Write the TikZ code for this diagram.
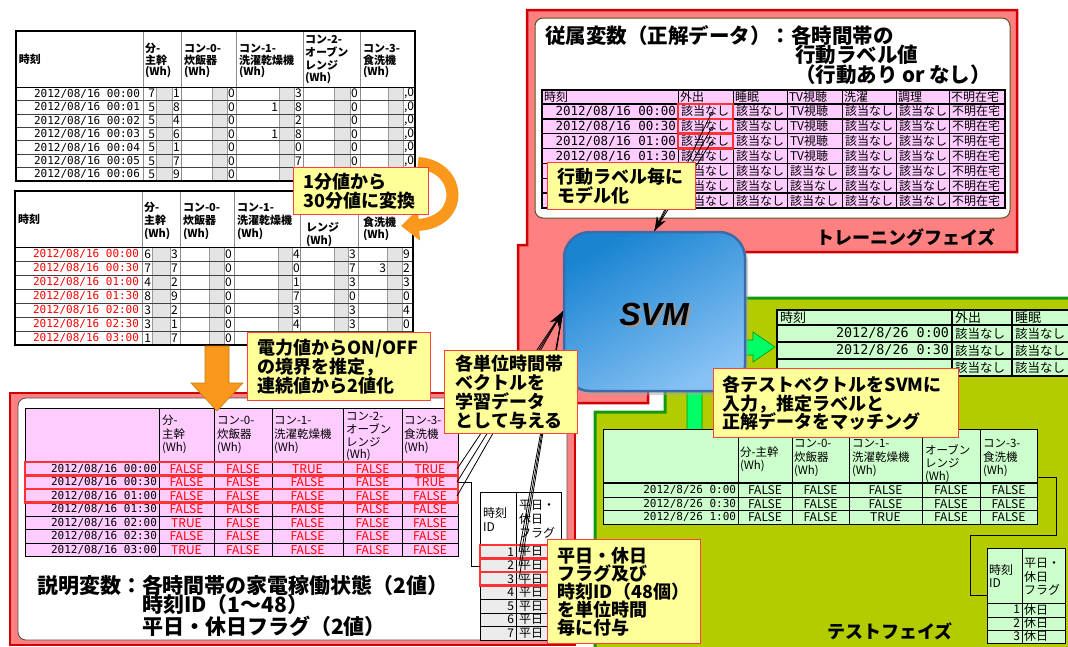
\documentclass[tikz,border=0pt]{standalone}
\usepackage{fontspec}
\setmainfont{Noto Sans CJK JP}
\newfontfamily\monof{DejaVu Sans Mono}
\newfontfamily\svmf{Liberation Sans}
\usetikzlibrary{arrows.meta,shadows}
\newcommand\jfs[1]{\fontsize{#1}{#1}\selectfont}
\newcommand\mkhdr[5]{\foreach \s [count=\k from 0] in {#5} {\node[txt,anchor=west] (#1\k) at (#2,{#3+#4*\k}) {\s};}}
\definecolor{pinkbg}{HTML}{FF8080}
\definecolor{redline}{HTML}{D00000}
\definecolor{cellpink}{HTML}{FFCCFF}
\definecolor{cellgreen}{HTML}{CCFFCC}
\definecolor{testbg}{HTML}{B2CC00}
\definecolor{testline}{HTML}{119911}
\definecolor{callbg}{HTML}{FFFF99}
\definecolor{callline}{HTML}{FF4040}
\definecolor{hilite}{HTML}{FF3333}
\definecolor{orng}{HTML}{FA981C}
\definecolor{svmtop}{HTML}{1A84D2}
\definecolor{svmbot}{HTML}{88C2F4}
\definecolor{svmedge}{HTML}{3C6CA8}
\definecolor{graycol}{HTML}{E4E4E4}
\definecolor{rowgray}{HTML}{ECECEC}
\definecolor{arrgreen}{HTML}{00FF66}
\definecolor{olivec}{HTML}{555522}
\definecolor{redtxt}{HTML}{FF0000}
\tikzset{
  txt/.style={inner sep=0pt,outer sep=0pt},
  callout/.style={draw=callline,fill=callbg,line width=1.3pt,inner xsep=10pt,inner ysep=0pt,
    align=left,font=\bfseries\fontsize{18}{18.8}\selectfont,anchor=north west},
  hilitebox/.style={draw=hilite,line width=2.5pt},
  conn/.style={draw=black,line width=0.8pt},
  svmbox/.style={rounded corners=26pt,minimum width=181pt,minimum height=159pt,draw=svmedge,
    line width=2.5pt,top color=svmtop,bottom color=svmbot,shading angle=30,
    drop shadow={shadow xshift=3pt,shadow yshift=-4pt,fill=black!35}},
}
\begin{document}
\begin{tikzpicture}[x=1pt,y=-1pt]
\useasboundingbox (0,0) rectangle (1068,646);
\fill[white] (0,0) rectangle (1068,646);

% ================= Table 1 =================
\fill[white] (16,31) rectangle (415,181);
\foreach \a/\b in {156/172,212/227,279/294,334/350,388/403}
  \filldraw[fill=graycol,draw=black!40,line width=0.6pt] (\a,87) rectangle (\b,181);
\foreach \x in {143,181,236,303,360} \draw[black!45,line width=0.6pt] (\x,31) -- (\x,181);
\foreach \k in {1,...,6} \draw[black!75,line width=0.6pt] (16,{87+13.43*\k}) -- (415,{87+13.43*\k});
\draw[black,line width=0.8pt] (16,87) -- (415,87);
\draw[black,line width=1.2pt] (16,31) rectangle (415,181);
\begin{scope}[every node/.append style={font=\bfseries\jfs{11}}]
\node[txt,anchor=west] (t1h) at (19,59) {時刻};
\mkhdr{t1ha}{145}{48}{12}{分-,主幹,(Wh)}
\mkhdr{t1hb}{184}{48}{12}{コン-0-,炊飯器,(Wh)}
\mkhdr{t1hc}{239}{48}{12}{コン-1-,洗濯乾燥機,(Wh)}
\mkhdr{t1hd}{305}{39}{13}{コン-2-,オーブン,レンジ,(Wh)}
\mkhdr{t1he}{363}{48}{12}{コン-3-,食洗機,(Wh)}
\end{scope}
\begin{scope}[every node/.append style={font=\jfs{12}}]
\foreach \t/\la/\ra/\rb/\lc/\rc/\rd [count=\i from 0] in
 {00:00/7/1/0/{}/3/0,00:01/5/8/0/1/8/0,00:02/5/4/0/{}/2/0,00:03/5/6/0/1/8/0,00:04/5/1/0/{}/0/0,00:05/5/7/0/{}/7/0}{
  \node[txt,anchor=east,font=\monof\jfs{11}] (t1t\i) at (140,{87+13.43*(\i+0.5)}) {2012/08/16 \t};
  \node[txt,anchor=east] (t1a\i) at (155,{87+13.43*(\i+0.5)}) {\la};
  \node[txt,anchor=west] (t1b\i) at (173,{87+13.43*(\i+0.5)}) {\ra};
  \node[txt,anchor=west] (t1c\i) at (228,{87+13.43*(\i+0.5)}) {\rb};
  \node[txt,anchor=east] (t1d\i) at (278,{87+13.43*(\i+0.5)}) {\lc};
  \node[txt,anchor=west] (t1e\i) at (295,{87+13.43*(\i+0.5)}) {\rc};
  \node[txt,anchor=west] (t1f\i) at (351,{87+13.43*(\i+0.5)}) {\rd};
  \node[txt,anchor=west] (t1g\i) at (404,{87+13.43*(\i+0.5)}) {,0};
}
\node[txt,anchor=east,font=\monof\jfs{11}] (t1t6) at (140,{87+13.43*6.5}) {2012/08/16 00:06};
\node[txt,anchor=east] (t1a6) at (155,{87+13.43*6.5}) {5};
\node[txt,anchor=west] (t1b6) at (173,{87+13.43*6.5}) {9};
\node[txt,anchor=west] (t1c6) at (228,{87+13.43*6.5}) {0};
\end{scope}

% ================= Table 2 =================
\fill[white] (15,191) rectangle (413,345);
\foreach \a/\b in {152/170,209/224,278/292,334/348,387/402}
  \filldraw[fill=graycol,draw=black!40,line width=0.6pt] (\a,247) rectangle (\b,345);
\foreach \x in {142,180,234,300,358} \draw[black!45,line width=0.6pt] (\x,191) -- (\x,345);
\foreach \k in {1,...,6} \draw[black!75,line width=0.6pt] (15,{247+14*\k}) -- (413,{247+14*\k});
\draw[black,line width=0.8pt] (15,247) -- (413,247);
\draw[black,line width=1.2pt] (15,191) rectangle (413,345);
\begin{scope}[every node/.append style={font=\bfseries\jfs{11}}]
\node[txt,anchor=west] (t2h) at (18,219) {時刻};
\mkhdr{t2ha}{144}{207}{13.5}{分-,主幹,(Wh)}
\mkhdr{t2hb}{183}{207}{13.5}{コン-0-,炊飯器,(Wh)}
\mkhdr{t2hc}{237}{207}{13.5}{コン-1-,洗濯乾燥機,(Wh)}
\mkhdr{t2hd}{306}{227}{13.5}{レンジ,(Wh)}
\mkhdr{t2he}{363}{222}{13}{食洗機,(Wh)}
\end{scope}
\begin{scope}[every node/.append style={font=\jfs{12}}]
\foreach \t/\la/\ra/\rb/\rc/\rd/\le/\re [count=\i from 0] in
 {00:00/6/3/0/4/3/{}/9,00:30/7/7/0/0/7/3/2,01:00/4/2/0/1/3/{}/3,01:30/8/9/0/7/0/{}/0,02:00/3/2/0/3/3/{}/4,02:30/3/1/0/4/3/{}/0}{
  \node[txt,anchor=east,font=\monof\jfs{11},text=redtxt] (t2t\i) at (139,{247+14*(\i+0.5)}) {2012/08/16 \t};
  \node[txt,anchor=east] (t2a\i) at (151,{247+14*(\i+0.5)}) {\la};
  \node[txt,anchor=west] (t2b\i) at (171,{247+14*(\i+0.5)}) {\ra};
  \node[txt,anchor=west] (t2c\i) at (225,{247+14*(\i+0.5)}) {\rb};
  \node[txt,anchor=west] (t2d\i) at (293,{247+14*(\i+0.5)}) {\rc};
  \node[txt,anchor=west] (t2e\i) at (349,{247+14*(\i+0.5)}) {\rd};
  \node[txt,anchor=east] (t2f\i) at (386,{247+14*(\i+0.5)}) {\le};
  \node[txt,anchor=west] (t2g\i) at (403,{247+14*(\i+0.5)}) {\re};
}
\node[txt,anchor=east,font=\monof\jfs{11},text=redtxt] (t2t6) at (139,{247+14*6.5}) {2012/08/16 03:00};
\node[txt,anchor=east] (t2a6) at (151,{247+14*6.5}) {1};
\node[txt,anchor=west] (t2b6) at (171,{247+14*6.5}) {7};
\node[txt,anchor=west] (t2c6) at (225,{247+14*6.5}) {0};
\end{scope}

% curved orange arrow
\draw[orng,line width=12pt,-{Triangle[length=18pt,width=30pt]}] (418,163) .. controls (462,166) and (466,222) .. (401,226);
\node[callout,minimum width=135pt,minimum height=47pt,text width=115pt] (c1) at (293,167) {1分値から\\30分値に変換};

% ================= Training panel =================
\filldraw[fill=pinkbg,draw=redline,line width=2.5pt] (527,10) -- (1017,10) -- (1017,252) -- (700,252) -- (648,300) -- (648,403) -- (518,403) -- (518,245) -- (527,245) -- cycle;
\filldraw[fill=white,draw=olivec,line width=1pt,rounded corners=8pt] (535,18) rectangle (1010,218);
\begin{scope}[every node/.append style={font=\bfseries\jfs{20.5}}]
\node[txt,anchor=west] (ttl1) at (545,35.5) {従属変数（正解データ）：各時間帯の};
\node[txt,anchor=west] (ttl2) at (795,55) {行動ラベル値};
\node[txt,anchor=west] (ttl3) at (795,74.5) {（行動あり or なし）};
\end{scope}
\fill[cellpink] (542,90) rectangle (1005,208);
\foreach \x in {678,733,787,842,896,949} \draw[black,line width=1pt] (\x,90) -- (\x,208);
\foreach \k in {0,...,6} \draw[black,line width=1.3pt] (542,{104+14.857*\k}) -- (1005,{104+14.857*\k});
\draw[black,line width=1.5pt] (542,90) rectangle (1005,208);
\begin{scope}[every node/.append style={font=\jfs{12}}]
\foreach \x/\s [count=\k] in {544/時刻,680/外出,735/睡眠,789/TV視聴,844/洗濯,898/調理,951/不明在宅}
  \node[txt,anchor=west] (trh\k) at (\x,97) {\s};
\foreach \t [count=\i from 0] in {00:00,00:30,01:00,01:30}
  \node[txt,anchor=east,font=\monof\jfs{12.5}] (trt\i) at (676,{104+14.857*(\i+0.5)}) {2012/08/16 \t};
\foreach \i in {0,...,6}{
  \node[txt,anchor=west] (tra\i) at (681,{104+14.857*(\i+0.5)}) {該当なし};
  \node[txt,anchor=west] (trb\i) at (736,{104+14.857*(\i+0.5)}) {該当なし};
  \node[txt,anchor=west] (trd\i) at (845,{104+14.857*(\i+0.5)}) {該当なし};
  \node[txt,anchor=west] (tre\i) at (899,{104+14.857*(\i+0.5)}) {該当なし};
  \node[txt,anchor=west] (trf\i) at (952,{104+14.857*(\i+0.5)}) {不明在宅};
}
\foreach \i in {0,...,3} \node[txt,anchor=west] (trc\i) at (790,{104+14.857*(\i+0.5)}) {TV視聴};
\foreach \i in {4,...,6} \node[txt,anchor=west] (trc\i) at (790,{104+14.857*(\i+0.5)}) {該当なし};
\end{scope}
\draw[hilitebox] (678,104) rectangle (733,118.9);
\draw[hilitebox] (678,118.9) rectangle (733,133.7);
\draw[hilitebox] (678,133.7) rectangle (733,148.6);
\node[txt,font=\bfseries\jfs{18}] (trlab) at (906,237) {トレーニングフェイズ};

% ================= Bottom-left panel =================
\filldraw[fill=pinkbg,draw=redline,line width=2.5pt] (10,393) rectangle (575,645);
\filldraw[fill=white,draw=black!70,line width=0.8pt,rounded corners=8pt] (18,398) rectangle (567,640);
\fill[cellpink] (25,408) rectangle (458,556.5);
\foreach \x in {159,214,272,343,402} \draw[black,line width=0.8pt] (\x,408) -- (\x,556.5);
\draw[black,line width=1pt] (25,461.5) -- (458,461.5);
\foreach \k in {1,...,6} \draw[black,line width=0.8pt] (25,{462+13.5*\k}) -- (458,{462+13.5*\k});
\draw[black,line width=1pt] (25,408) rectangle (458,556.5);
\begin{scope}[every node/.append style={font=\jfs{11.5}}]
\mkhdr{t3ha}{162}{420}{14}{分-,主幹,(Wh)}
\mkhdr{t3hb}{217}{420}{14}{コン-0-,炊飯器,(Wh)}
\mkhdr{t3hc}{274}{420}{14}{コン-1-,洗濯乾燥機,(Wh)}
\mkhdr{t3hd}{346}{416}{13}{コン-2-,オーブン,レンジ,(Wh)}
\mkhdr{t3he}{404}{420}{14}{コン-3-,食洗機,(Wh)}
\end{scope}
\begin{scope}[every node/.append style={font=\jfs{12}}]
\foreach \t/\a/\b/\c/\d/\e [count=\i from 0] in
 {00:00/FALSE/FALSE/TRUE/FALSE/TRUE,00:30/FALSE/FALSE/FALSE/FALSE/TRUE,01:00/FALSE/FALSE/FALSE/FALSE/FALSE,01:30/FALSE/FALSE/FALSE/FALSE/FALSE,02:00/TRUE/FALSE/FALSE/FALSE/FALSE,02:30/FALSE/FALSE/FALSE/FALSE/FALSE,03:00/TRUE/FALSE/FALSE/FALSE/FALSE}{
  \node[txt,anchor=east,font=\monof\jfs{11}] (t3t\i) at (157,{462+13.5*(\i+0.5)}) {2012/08/16 \t};
  \node[txt,text=redtxt] (t3a\i) at (186.5,{462+13.5*(\i+0.5)}) {\a};
  \node[txt,text=redtxt] (t3b\i) at (243,{462+13.5*(\i+0.5)}) {\b};
  \node[txt,text=redtxt] (t3c\i) at (307.5,{462+13.5*(\i+0.5)}) {\c};
  \node[txt,text=redtxt] (t3d\i) at (372.5,{462+13.5*(\i+0.5)}) {\d};
  \node[txt,text=redtxt] (t3e\i) at (430,{462+13.5*(\i+0.5)}) {\e};
}
\end{scope}
\draw[hilitebox] (25,462) rectangle (458,475.5);
\draw[hilitebox] (25,475.5) rectangle (458,489);
\draw[hilitebox] (25,489) rectangle (458,502.5);
\begin{scope}[every node/.append style={font=\bfseries\jfs{21}}]
\node[txt,anchor=west] (ex1) at (37,585) {説明変数：各時間帯の家電稼働状態（2値）};
\node[txt,anchor=west] (ex2) at (142,605) {時刻ID（1～48）};
\node[txt,anchor=west] (ex3) at (142,626) {平日・休日フラグ（2値）};
\end{scope}
% small table
\fill[white] (480,492) rectangle (561,545);
\fill[rowgray] (480,545) rectangle (561,640);
\draw[black,line width=0.8pt] (516,492) -- (516,640);
\draw[black,line width=0.8pt] (480,545) -- (561,545);
\foreach \k in {1,...,6} \draw[black,line width=0.7pt] (480,{545+13.57*\k}) -- (561,{545+13.57*\k});
\draw[black,line width=0.9pt] (480,492) rectangle (561,640);
\begin{scope}[every node/.append style={font=\jfs{12}}]
\mkhdr{s1ha}{483}{513}{14}{時刻,ID}
\mkhdr{s1hb}{519}{505}{14}{平日・,休日,フラグ}
\foreach \i in {1,...,7}{
  \node[txt,anchor=east] (s1n\i) at (514,{545+13.57*(\i-0.5)}) {\i};
  \node[txt,anchor=west] (s1f\i) at (519,{545+13.57*(\i-0.5)}) {平日};
}
\end{scope}
\draw[hilitebox] (480,545) rectangle (556,558.6);
\draw[hilitebox] (480,558.6) rectangle (556,572.1);
\draw[hilitebox] (480,572.1) rectangle (556,585.7);
\coordinate (br1) at (458,482);
\coordinate (br2) at (480,566);
\draw[conn] (br1) -- (471,482) -- (471,566) -- (br2);

% orange down arrow
\filldraw[fill=orng,draw=orng!80!black,line width=0.6pt] (205,346) -- (229,346) -- (229,383) -- (243,383) -- (217,411) -- (191,383) -- (205,383) -- cycle;
\node[callout,minimum width=183pt,minimum height=68pt,text width=163pt] (c2) at (247,332) {電力値からON/OFF\\の境界を推定，\\連続値から2値化};

% ================= Test panel =================
\filldraw[fill=testbg,draw=testline,line width=3pt] (720,298) -- (1075,298) -- (1075,652) -- (595,652) -- (595,412) -- (665,412) -- (665,330) -- cycle;
% results table
\fill[cellgreen] (777,310) rectangle (1075,376);
\foreach \x in {952,1012} \draw[black,line width=1.2pt] (\x,310) -- (\x,376);
\foreach \y in {325,342,359,376} \draw[black,line width=1.4pt] (777,\y) -- (1075,\y);
\draw[black,line width=1.4pt] (777,376) -- (777,310) -- (1075,310);
\begin{scope}[every node/.append style={font=\jfs{13}}]
\node[txt,anchor=west] (rh1) at (780,317.5) {時刻};
\node[txt,anchor=west] (rh2) at (955,317.5) {外出};
\node[txt,anchor=west] (rh3) at (1015,317.5) {睡眠};
\foreach \t [count=\i from 0] in {0:00,0:30}
  \node[txt,anchor=east,font=\monof\jfs{13.4}] (rt\i) at (949,{325+17*(\i+0.5)}) {2012/8/26 \t};
\foreach \i in {0,1,2}{
  \node[txt,anchor=west,font=\jfs{12.5}] (ra\i) at (955,{325+17*(\i+0.5)}) {該当なし};
  \node[txt,anchor=west,font=\jfs{12.5}] (rb\i) at (1015,{325+17*(\i+0.5)}) {該当なし};
}
\end{scope}
% green arrow
\filldraw[fill=arrgreen,draw=green!60!black,line width=0.6pt] (687,440) -- (687,340) -- (753,340) -- (753,332) -- (775,347) -- (753,362) -- (753,355) -- (702,355) -- (702,440) -- cycle;
% feature table
\fill[cellgreen] (603,429) rectangle (1037,524);
\foreach \x in {738,792,849,922,980} \draw[black,line width=1pt] (\x,429) -- (\x,524);
\draw[black,line width=1.4pt] (603,483) -- (1037,483);
\foreach \y in {497,510.5} \draw[black,line width=1pt] (603,\y) -- (1037,\y);
\draw[black,line width=1pt] (603,429) rectangle (1037,524);
\begin{scope}[every node/.append style={font=\jfs{11.5}}]
\mkhdr{fha}{740}{452}{14}{分-主幹,(Wh)}
\mkhdr{fhb}{794}{443}{14}{コン-0-,炊飯器,(Wh)}
\mkhdr{fhc}{852}{443}{14}{コン-1-,洗濯乾燥機,(Wh)}
\mkhdr{fhd}{925}{450}{13.5}{オーブン,レンジ,(Wh)}
\mkhdr{fhe}{983}{443}{14}{コン-3-,食洗機,(Wh)}
\end{scope}
\begin{scope}[every node/.append style={font=\jfs{12}}]
\foreach \t/\a/\b/\c/\d/\e [count=\i from 0] in
 {0:00/FALSE/FALSE/FALSE/FALSE/FALSE,0:30/FALSE/FALSE/FALSE/FALSE/FALSE,1:00/FALSE/FALSE/TRUE/FALSE/FALSE}{
  \node[txt,anchor=east,font=\monof\jfs{11}] (ft\i) at (736,{483.5+13.5*(\i+0.5)}) {2012/8/26 \t};
  \node[txt] (fa\i) at (765,{483.5+13.5*(\i+0.5)}) {\a};
  \node[txt] (fb\i) at (820.5,{483.5+13.5*(\i+0.5)}) {\b};
  \node[txt] (fc\i) at (885.5,{483.5+13.5*(\i+0.5)}) {\c};
  \node[txt] (fd\i) at (951,{483.5+13.5*(\i+0.5)}) {\d};
  \node[txt] (fe\i) at (1008.5,{483.5+13.5*(\i+0.5)}) {\e};
}
\end{scope}
% test small table
\fill[cellgreen] (987,548) rectangle (1065,643);
\draw[black,line width=0.9pt] (1022,548) -- (1022,643);
\draw[black,line width=0.9pt] (987,603) -- (1065,603);
\foreach \y in {617,630} \draw[black,line width=0.7pt] (987,\y) -- (1065,\y);
\draw[black,line width=0.9pt] (987,548) rectangle (1065,643);
\begin{scope}[every node/.append style={font=\jfs{12}}]
\mkhdr{s2ha}{989}{570}{13}{時刻,ID}
\mkhdr{s2hb}{1024}{563}{13.5}{平日・,休日,フラグ}
\foreach \i in {1,2,3}{
  \node[txt,anchor=east] (s2n\i) at (1020,{603+13.3*(\i-0.5)}) {\i};
  \node[txt,anchor=west] (s2f\i) at (1024,{603+13.3*(\i-0.5)}) {休日};
}
\end{scope}
\coordinate (bt1) at (1037,477);
\coordinate (bt2) at (987,595);
\draw[conn,line width=1pt] (bt1) -- (1056,477) -- (1056,535) -- (970,535) -- (970,595) -- (bt2);
\node[txt,font=\bfseries\jfs{18}] (telab) at (890,631) {テストフェイズ};

% ================= SVM =================
\node[svmbox] (svm) at (654.5,311.5) {};
\node[txt,font=\svmf\bfseries\itshape\jfs{32},text=black!40] (svmsh) at (656.5,316.5) {SVM};
\node[txt,font=\svmf\bfseries\itshape\jfs{32}] (svmtxt) at (654,314) {SVM};

% connectors into SVM
\coordinate (c1a) at (712,112);
\coordinate (c1b) at (712,127);
\coordinate (c1c) at (712,141);
\draw[conn] (c1a) -- (svm.north);
\draw[conn] (c1c) -- (svm.north);
\draw[conn,-{Stealth[length=14pt,width=10pt]}] (c1b) -- (svm.north);
\coordinate (a1) at (457,469);
\coordinate (a2) at (457,482);
\coordinate (a3) at (457,496);
\coordinate (b1) at (519,552);
\coordinate (b2) at (519,566);
\coordinate (b3) at (519,579);
\foreach \p in {a1,a3,b1,b2,b3} \draw[conn] (\p) -- (svm.west);
\draw[conn,-{Stealth[length=16pt,width=11pt]}] (a2) -- (svm.west);

% callouts
\node[callout,minimum width=148pt,minimum height=47pt,text width=128pt] (c4) at (547,162) {行動ラベル毎に\\モデル化};
\node[callout,minimum width=133pt,minimum height=83pt,text width=111pt,inner xsep=11pt] (c3) at (444,350) {各単位時間帯\\ベクトルを\\学習データ\\として与える};
\node[callout,minimum width=153pt,minimum height=104pt,text width=133pt,font=\bfseries\fontsize{18}{18}\selectfont] (c5) at (547,539) {平日・休日\\フラグ及び\\時刻ID（48個）\\を単位時間\\毎に付与};
\node[callout,minimum width=245pt,minimum height=69pt,text width=227pt,inner xsep=9pt] (c6) at (713,368) {各テストベクトルをSVMに\\入力，推定ラベルと\\正解データをマッチング};
\end{tikzpicture}
\end{document}
